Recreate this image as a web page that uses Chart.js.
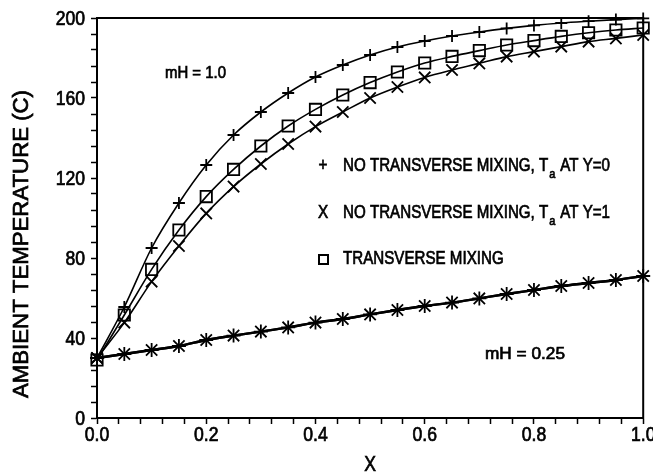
<!DOCTYPE html>
<html><head><meta charset="utf-8">
<script src="https://cdn.jsdelivr.net/npm/chart.js@4"></script>
<style>html,body{margin:0;padding:0;background:#fff;}#wrap{width:653px;height:474px;position:relative;}</style>
</head><body><div id="wrap"><canvas id="c" width="653" height="474"></canvas></div>
<script>
// ---- data ----
const xValues = [0, 0.05, 0.1, 0.15, 0.2, 0.25, 0.3, 0.35, 0.4, 0.45, 0.5, 0.55, 0.6, 0.65, 0.7, 0.75, 0.8, 0.85, 0.9, 0.95, 1.0];
const noMixY0_mH1 = [30, 55.5, 85, 107.5, 126.5, 141.5, 153, 162.5, 170.5, 176.5, 181.5, 185.5, 188.5, 191, 193, 194.8, 196.3, 197.5, 198.4, 199.2, 199.8];
const noMixY1_mH1 = [30, 47.7, 68.2, 86, 102.3, 115.7, 127, 137, 145.7, 153, 160, 165.5, 170.3, 174, 177.3, 180.7, 183.2, 185.7, 188.2, 189.8, 191.5];
const mixing_mH1 = [29, 51.5, 74.3, 94, 110.7, 124.3, 136, 146, 154.3, 161.5, 167.7, 173, 177.5, 180.8, 183.7, 186.5, 188.7, 190.8, 192.6, 194, 195];
const noMixY0_mH025 = [30, 32, 34, 36, 39, 41.2, 43.2, 45.3, 47.7, 49.5, 51.8, 54, 56, 57.7, 59.8, 62, 64, 66, 67.5, 69, 71];
const noMixY1_mH025 = [30, 32, 34, 36, 39, 41.2, 43.2, 45.3, 47.7, 49.5, 51.8, 54, 56, 57.7, 59.8, 62, 64, 66, 67.5, 69, 71];
const xTickValues = [0, 0.2, 0.4, 0.6, 0.8, 1.0];
const xTickLabels = ['0.0', '0.2', '0.4', '0.6', '0.8', '1.0'];
const yTickValues = [0, 40, 80, 120, 160, 200];
const yTickLabels = ['0', '40', '80', '120', '160', '200'];
const xAxisTitle = 'X';
const yAxisTitle = 'AMBIENT TEMPERATURE (C)';
const legendRows = [
  {sym: '+', pre: 'NO TRANSVERSE MIXING, T', sub: 'a', post: ' AT Y=0'},
  {sym: 'X', pre: 'NO TRANSVERSE MIXING, T', sub: 'a', post: ' AT Y=1'},
  {sym: 'rect', pre: 'TRANSVERSE MIXING', sub: '', post: ''}
];
const curveLabels = ['mH = 1.0', 'mH = 0.25'];

const FONT = "'Liberation Sans', Arial, sans-serif";
Chart.defaults.font.family = FONT;
Chart.defaults.color = '#000';

const pts = arr => xValues.map((x, i) => ({x: x, y: arr[i]}));
function ds(arr, style, radius, width) {
  return {
    data: pts(arr), showLine: true, borderColor: '#000', borderWidth: width, pointStyle: style,
    pointRadius: radius, pointBorderColor: '#000', pointBackgroundColor: 'rgba(0,0,0,0)',
    pointBorderWidth: 1.8, cubicInterpolationMode: 'monotone', clip: false, fill: false
  };
}

// narrow text helper (condensed look of the original plotter font)
function txt(ctx, s, x, y, size, sx, align, rot) {
  ctx.save();
  ctx.font = size + 'px ' + FONT;
  ctx.textBaseline = 'middle';
  ctx.textAlign = align;
  ctx.translate(x, y);
  if (rot) ctx.rotate(rot);
  ctx.scale(sx, 1);
  ctx.fillText(s, 0, 0);
  ctx.lineWidth = 0.7;
  ctx.strokeStyle = '#000';
  ctx.strokeText(s, 0, 0);
  ctx.restore();
}
function width(ctx, s, size) { ctx.save(); ctx.font = size + 'px ' + FONT; const w = ctx.measureText(s).width; ctx.restore(); return w; }

const overlay = {
  id: 'overlay',
  afterDraw(chart) {
    const ctx = chart.ctx, a = chart.chartArea, xs = chart.scales.x, ys = chart.scales.y;
    ctx.save();
    ctx.strokeStyle = '#000'; ctx.lineWidth = 2;
    ctx.strokeRect(a.left, a.top, a.right - a.left, a.bottom - a.top);
    ctx.fillStyle = '#000';
    const TS = 20, TSX = 0.88;
    // tick labels
    yTickValues.forEach((v, i) => txt(ctx, yTickLabels[i], 85, ys.getPixelForValue(v) + 1, TS, TSX, 'right'));
    xTickValues.forEach((v, i) => txt(ctx, xTickLabels[i], xs.getPixelForValue(v), 435, TS, TSX, 'center'));
    // axis titles
    txt(ctx, xAxisTitle, (a.left + a.right) / 2, 465, 22, 0.8, 'center');
    const yl = 308, yw = width(ctx, yAxisTitle, 22);
    txt(ctx, yAxisTitle, 22, 244, 22, yl / yw, 'center', -Math.PI / 2);
    // legend
    const lx = 323, tx = 343, rows = [166, 213, 259], LS = 18;
    const full = width(ctx, legendRows[0].pre, LS) + width(ctx, 'a', 13) + 2 + width(ctx, legendRows[0].post, LS);
    const lsx = 267 / full;
    legendRows.forEach((r, i) => {
      const y = rows[i];
      if (r.sym === 'rect') {
        ctx.lineWidth = 2;
        ctx.strokeRect(lx - 4, y - 4, 9, 9);
      } else {
        txt(ctx, r.sym, lx, y, LS, 0.85, 'center');
      }
      let x = tx;
      txt(ctx, r.pre, x, y, LS, lsx, 'left'); x += width(ctx, r.pre, LS) * lsx;
      if (r.sub) {
        txt(ctx, r.sub, x + 1, y + 8, 13, lsx, 'left'); x += (width(ctx, r.sub, 13) + 2) * lsx;
        txt(ctx, r.post, x, y, LS, lsx, 'left');
      }
    });
    // curve labels
    txt(ctx, curveLabels[0], 165, 73, 17, 61 / width(ctx, curveLabels[0], 17), 'left');
    txt(ctx, curveLabels[1], 485, 354, 17, 80 / width(ctx, curveLabels[1], 17), 'left');
    ctx.restore();
  }
};

new Chart(document.getElementById('c'), {
  type: 'scatter',
  data: { datasets: [
    ds(noMixY0_mH1, 'cross', 6, 1.6),
    ds(noMixY1_mH1, 'crossRot', 8, 1.6),
    ds(mixing_mH1, 'rect', 8, 1.6),
    ds(noMixY0_mH025, 'cross', 7, 2.4),
    ds(noMixY1_mH025, 'crossRot', 8, 2.4)
  ] },
  options: {
    responsive: false, animation: false, devicePixelRatio: 1,
    layout: { padding: { top: 18, right: 8, bottom: 0, left: 0 } },
    plugins: { legend: { display: false }, tooltip: { enabled: false } },
    scales: {
      x: {
        type: 'linear', min: 0, max: 1,
        ticks: { display: false, stepSize: 0.04, autoSkip: false, maxRotation: 0 },
        grid: { drawOnChartArea: false, tickLength: 6, color: '#000', tickWidth: 1.5 },
        border: { color: '#000', width: 2 },
        afterFit: s => { s.height = 56; s.paddingLeft = 0; s.paddingRight = 0; }
      },
      y: {
        type: 'linear', min: 0, max: 200,
        ticks: { display: false, stepSize: 8, autoSkip: false },
        grid: { drawOnChartArea: false, tickLength: 6, color: '#000', tickWidth: 1.5 },
        border: { color: '#000', width: 2 },
        afterFit: s => { s.width = 97; s.paddingTop = 0; s.paddingBottom = 0; }
      }
    }
  },
  plugins: [overlay]
});
</script></body></html>
